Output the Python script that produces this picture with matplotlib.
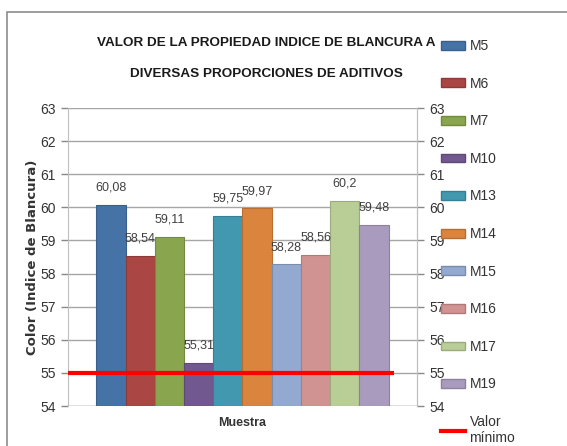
import numpy as np
import matplotlib
matplotlib.use("Agg")
import matplotlib.pyplot as plt
from matplotlib.patches import Rectangle, Patch
from matplotlib.lines import Line2D

# datos
muestras = ['M5', 'M6', 'M7', 'M10', 'M13', 'M14', 'M15', 'M16', 'M17', 'M19']
blancura = [60.08, 58.54, 59.11, 55.31, 59.75, 59.97, 58.28, 58.56, 60.2, 59.48]
etiquetas = ['60,08', '58,54', '59,11', '55,31', '59,75', '59,97', '58,28', '58,56', '60,2', '59,48']
valor_minimo = 55
colores = ['#4572A7', '#AA4643', '#89A54E', '#71588F', '#4198AF',
           '#DB843D', '#93A9CF', '#D19392', '#B9CD96', '#A99BBD']
bordes = ['#3A5F8C', '#8E3A38', '#728A41', '#5E4977', '#367F92',
          '#B86E33', '#7A8DAD', '#AF7B7A', '#9AAB7D', '#8D819E']

plt.rcParams['font.family'] = ['Liberation Sans', 'DejaVu Sans']

fig = plt.figure(figsize=(5.67, 4.46), dpi=100)
fig.patches.append(Rectangle((7 / 567, -0.1), 1.2, (446 - 12) / 446 + 0.1,
                             transform=fig.transFigure, fill=False,
                             edgecolor='#8C8C8C', linewidth=1.2))

ax = fig.add_axes([68 / 567, 40 / 446, 349 / 567, 298 / 446])
x = np.arange(len(muestras))
ax.bar(x, [v - 54 for v in blancura], bottom=54, width=1.0, color=colores,
       edgecolor=bordes, linewidth=0.8, zorder=3)
for xi, v, t in zip(x, blancura, etiquetas):
    ax.annotate(t, (xi, v), xytext=(0, 8), textcoords='offset points',
                ha='center', va='bottom', fontsize=9, color='#404040', zorder=5)

ax.set_xlim(-1.47, 10.47)
ax.plot([-1.47, 9.7], [valor_minimo, valor_minimo], color='#FF0000',
        linewidth=3, solid_capstyle='butt', zorder=4)

ax.set_ylim(54, 63)
ax.set_yticks(range(54, 64))
ax.yaxis.grid(True, color='#A6A6A6', linewidth=1, zorder=0)
ax.set_xticks([])
for s in ['top', 'bottom']:
    ax.spines[s].set_visible(False)
for s in ['left', 'right']:
    ax.spines[s].set_color('#BFBFBF')
ax.tick_params(axis='y', colors='#888888', length=5, width=1, labelsize=10,
               labelcolor='#333333', pad=4)
ax.axhline(54, color='#A6A6A6', linewidth=1, zorder=2)

ax2 = ax.twinx()
ax2.set_ylim(54, 63)
ax2.set_yticks(range(54, 64))
for s in ['top', 'bottom', 'left']:
    ax2.spines[s].set_visible(False)
ax2.spines['right'].set_color('#BFBFBF')
ax2.tick_params(axis='y', colors='#888888', length=5, width=1, labelsize=10,
                labelcolor='#333333', pad=4)

ax.set_xlabel('Muestra', fontsize=9, fontweight='bold', color='#333333', labelpad=8)
fig.text(33 / 567, 1 - 257 / 446, 'Color (Indice de Blancura)', rotation=90,
         ha='center', va='center', fontsize=9.5, fontweight='bold',
         family='DejaVu Sans', color='#333333')

fig.text(266 / 567, 1 - 43 / 446, 'VALOR DE LA PROPIEDAD INDICE DE BLANCURA A',
         ha='center', va='center', fontsize=9.7, fontweight='bold', color='#1A1A1A')
fig.text(266 / 567, 1 - 74 / 446, 'DIVERSAS PROPORCIONES DE ADITIVOS',
         ha='center', va='center', fontsize=9.7, fontweight='bold', color='#1A1A1A')

handles = [Patch(facecolor=c, edgecolor=b) for c, b in zip(colores, bordes)]
handles.append(Line2D([], [], color='#FF0000', linewidth=3))
labels = muestras + ['Valor\nmínimo']
fig.legend(handles, labels, loc='upper left', bbox_to_anchor=(441 / 567, 1 - 39 / 446),
           frameon=False, fontsize=10, labelspacing=1.7, handlelength=1.75,
           handleheight=0.6, handletextpad=0.3, borderaxespad=0, borderpad=0,
           labelcolor='#333333')

fig.savefig('out.png', dpi=100)
